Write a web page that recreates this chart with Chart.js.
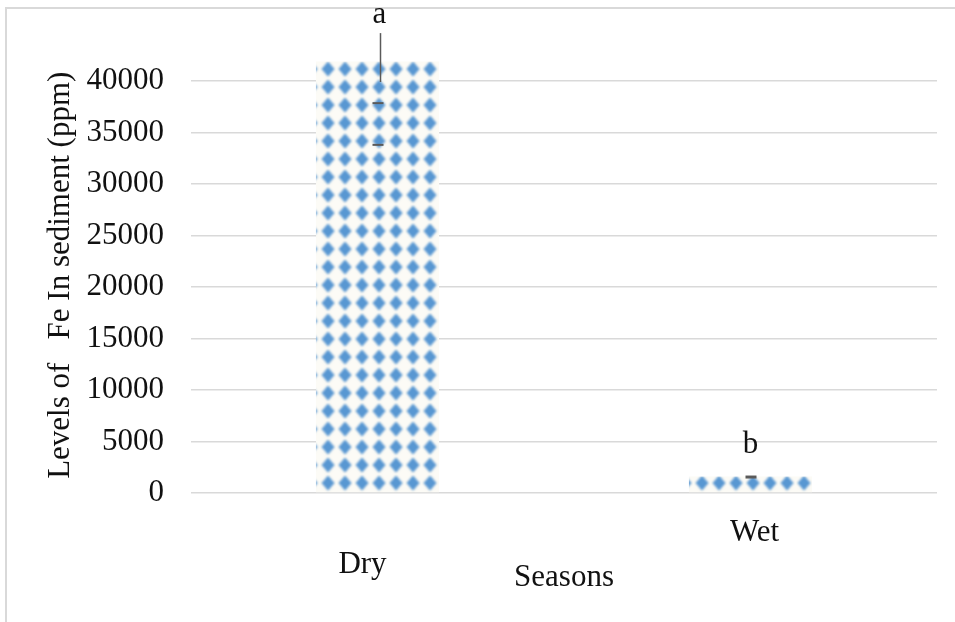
<!DOCTYPE html>
<html>
<head>
<meta charset="utf-8">
<script src="https://cdn.jsdelivr.net/npm/chart.js@4.4.0/dist/chart.umd.min.js"></script>
<style>
  html, body { margin: 0; padding: 0; background: #fff; overflow: hidden; }
  #wrap { position: relative; width: 955px; height: 622px; }
  #frame { position: absolute; left: 5px; top: 7px; width: 970px; height: 640px;
           border-left: 2px solid #d9d9d9; border-top: 2px solid #d9d9d9; }
  canvas { position: absolute; left: 0; top: 0; }
</style>
</head>
<body>
<div id="wrap">
  <div id="frame"></div>
  <canvas id="chart" width="955" height="622"></canvas>
</div>
<script>
// Seasonal Fe levels in sediment (ppm)
const seasons = ['Dry', 'Wet'];
const feLevels = [41900, 1600];
const yTicks = [0, 5000, 10000, 15000, 20000, 25000, 30000, 35000, 40000];
const yTitle = 'Levels of   Fe In sediment (ppm)';

// error-bar pieces per season (ppm)
const whiskerTop = [44650, null];
const whiskerBottom = [39900, null];
const capLevels = [[37850, 33800], [1550]];
const groupLetters = ['a', 'b'];

const FONT = 'Liberation Serif, "Times New Roman", serif';
const canvas = document.getElementById('chart');
const ctx = canvas.getContext('2d');

function diamondPattern() {
  const t = document.createElement('canvas');
  t.width = 17; t.height = 18;
  const g = t.getContext('2d');
  g.fillStyle = '#fcfbf6';
  g.fillRect(0, 0, 17, 18);
  g.filter = 'blur(1px)';
  g.fillStyle = '#5897d2';
  g.beginPath();
  g.moveTo(8.5, 1.5); g.lineTo(15, 9); g.lineTo(8.5, 16.5); g.lineTo(2, 9);
  g.closePath();
  g.fill();
  const p = ctx.createPattern(t, 'repeat');
  p.setTransform(new DOMMatrix().translate(13.5, 6));
  return p;
}

const errorBars = {
  id: 'errorBars',
  afterDatasetsDraw(chart) {
    const y = chart.scales.y;
    const meta = chart.getDatasetMeta(0);
    const c = chart.ctx;
    c.save();
    c.strokeStyle = '#5a5a5a';
    meta.data.forEach((bar, i) => {
      const x = bar.x + 3;
      if (whiskerTop[i] != null) {
        c.lineWidth = 1.5;
        c.beginPath();
        c.moveTo(x, y.getPixelForValue(whiskerTop[i]));
        c.lineTo(x, y.getPixelForValue(whiskerBottom[i]));
        c.stroke();
      }
      capLevels[i].forEach(v => {
        const py = y.getPixelForValue(v);
        c.lineWidth = i === 0 ? 2 : 3;
        c.beginPath();
        c.moveTo(bar.x - 5, py);
        c.lineTo(bar.x + 6, py);
        c.stroke();
      });
    });
    c.restore();
  }
};

const textMarks = {
  id: 'textMarks',
  afterDraw(chart, args, opts) {
    const y = chart.scales.y;
    const x = chart.scales.x;
    const area = chart.chartArea;
    const meta = chart.getDatasetMeta(0);
    const c = chart.ctx;
    c.save();
    c.fillStyle = '#111';
    c.font = '31px ' + FONT;
    c.textAlign = 'center';
    c.textBaseline = 'alphabetic';
    // significance letters above each error bar
    meta.data.forEach((bar, i) => {
      const topVal = Math.max(whiskerTop[i] ?? -Infinity, ...capLevels[i]);
      c.fillText(groupLetters[i], bar.x + opts.letterDx[i], y.getPixelForValue(topVal) - opts.letterGap[i]);
    });
    // season names under the axis
    seasons.forEach((s, i) => {
      c.fillText(s, x.getPixelForValue(i) + opts.labelDx[i], area.bottom + opts.labelDy[i]);
    });
    // value-axis title
    c.translate(opts.yTitleX, (area.top + area.bottom) / 2 + opts.yTitleShift);
    c.rotate(-Math.PI / 2);
    c.textBaseline = 'middle';
    c.fillText(yTitle, 0, 0);
    c.restore();
  }
};

new Chart(canvas, {
  type: 'bar',
  data: {
    labels: seasons,
    datasets: [{
      data: feLevels,
      backgroundColor: diamondPattern(),
      borderWidth: 0,
      categoryPercentage: 1,
      barPercentage: 0.33
    }]
  },
  options: {
    responsive: false,
    animation: false,
    layout: { padding: { left: 42, right: 18, top: 29.5, bottom: 26 } },
    plugins: {
      legend: { display: false },
      tooltip: { enabled: false },
      textMarks: {
        letterDx: [2, 0],
        letterGap: [10, 24],
        labelDx: [-15, 4],
        labelDy: [80, 48],
        yTitleX: 60.5,
        yTitleShift: 14
      }
    },
    scales: {
      x: {
        grid: { display: false, drawTicks: false },
        border: { display: false },
        ticks: { display: false },
        title: {
          display: true, text: 'Seasons', color: '#111',
          font: { family: FONT, size: 31 },
          padding: { top: 65.8, bottom: 0 }
        }
      },
      y: {
        min: 0, max: 45000,
        afterBuildTicks: s => { s.ticks = yTicks.map(v => ({ value: v })); },
        afterFit: s => { s.width = 149; s.paddingTop = 0; s.paddingBottom = 0; },
        grid: { color: '#d9d9d9', lineWidth: 1.5, drawTicks: false },
        border: { display: false },
        ticks: {
          color: '#111', padding: 27,
          font: { family: FONT, size: 31 },
          callback: v => String(v)
        },
        title: { display: false }
      }
    }
  },
  plugins: [errorBars, textMarks]
});
</script>
</body>
</html>
